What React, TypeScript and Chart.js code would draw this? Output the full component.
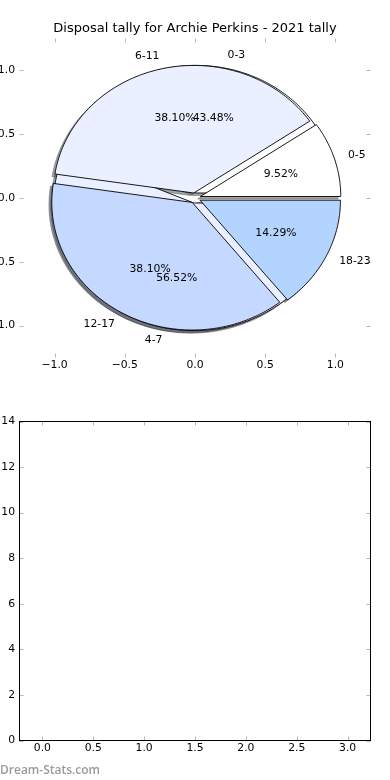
import React, { useEffect, useRef } from 'react';
import { Chart, registerables } from 'chart.js';

Chart.register(...registerables);

// ---------- data ----------
const chartTitle = 'Disposal tally for Archie Perkins - 2021 tally';
const outerLabels = ['0-5', '6-11', '12-17', '18-23'];
const outerValues = [2, 8, 8, 3];
const innerLabels = ['0-3', '4-7'];
const innerValues = [10, 13];
const pieTickValues = [-1, -0.5, 0, 0.5, 1];
const barTickX = [0, 0.5, 1, 1.5, 2, 2.5, 3];
const barTickY = [0, 2, 4, 6, 8, 10, 12, 14];
const barPositions = [0, 1, 2, 3];
const barValues = [0, 0, 0, 0];
const watermarkText = 'Dream-Stats.com';

// ---------- styles ----------
const sliceColors = ['#ffffff', '#eaf0ff', '#c5d8ff', '#b3d4ff'];
const FAMILY = "'DejaVu Sans', sans-serif";
const TICK_SIZE = 10.8;
const EXPLODE = 0.04;
const SHADOW_OFF = -0.02;

const fmt1 = (v: number) => (v < 0 ? '\u2212' : '') + Math.abs(v).toFixed(1);

const zeroPad = (s: any) => {
  s.paddingLeft = 0;
  s.paddingRight = 0;
  s.paddingTop = 0;
  s.paddingBottom = 0;
};

const hexToRgb = (hex: string) => {
  const h = hex.replace('#', '');
  return [0, 2, 4].map((i) => parseInt(h.slice(i, i + 2), 16));
};

const inwardTicks = {
  id: 'inwardTicks',
  afterDraw(chart: any, _args: any, opts: any) {
    const { ctx, chartArea: a, scales } = chart;
    const L = 4;
    ctx.save();
    ctx.strokeStyle = 'rgba(0,0,0,0.28)';
    ctx.lineWidth = 1;
    const seg = (x1: number, y1: number, x2: number, y2: number) => {
      ctx.beginPath();
      ctx.moveTo(x1, y1);
      ctx.lineTo(x2, y2);
      ctx.stroke();
    };
    scales.x.ticks.forEach((t: any) => {
      const p = Math.round(scales.x.getPixelForValue(t.value)) + 0.5;
      seg(p, a.top, p, a.top + L);
      seg(p, a.bottom, p, a.bottom - L);
    });
    scales.y.ticks.forEach((t: any) => {
      const p = Math.round(scales.y.getPixelForValue(t.value)) + 0.5;
      seg(a.left, p, a.left + L, p);
      seg(a.right, p, a.right - L, p);
    });
    if (opts && opts.frame) {
      ctx.strokeStyle = '#000';
      ctx.lineWidth = 1;
      ctx.strokeRect(a.left, a.top, a.right - a.left, a.bottom - a.top);
    }
    if (opts && opts.title) {
      ctx.fillStyle = '#000';
      ctx.font = `13px ${FAMILY}`;
      ctx.textAlign = 'center';
      ctx.textBaseline = 'middle';
      ctx.fillText(opts.title, (a.left + a.right) / 2, 28.8);
    }
    ctx.restore();
  },
};

type Slice = { t1: number; t2: number; mid: number; frac: number; ox: number; oy: number };

const makeSlices = (values: number[]): Slice[] => {
  const total = values.reduce((s, v) => s + v, 0);
  let t = 0;
  return values.map((v) => {
    const frac = v / total;
    const t1 = t;
    const t2 = t + 360 * frac;
    t = t2;
    const mid = ((t1 + t2) / 2) * (Math.PI / 180);
    return { t1, t2, mid, frac, ox: EXPLODE * Math.cos(mid), oy: EXPLODE * Math.sin(mid) };
  });
};

const piePlugin = {
  id: 'explodedPies',
  afterDatasetsDraw(chart: any) {
    const { ctx } = chart;
    const xs = chart.scales.x;
    const ys = chart.scales.y;
    const px = (v: number) => xs.getPixelForValue(v);
    const py = (v: number) => ys.getPixelForValue(v);
    // drawn in creation order: the 2-slice pie first, the 4-slice pie on top
    const pies = [
      { labels: innerLabels, slices: makeSlices(innerValues) },
      { labels: outerLabels, slices: makeSlices(outerValues) },
    ];
    const path = (s: Slice, dx: number, dy: number) => {
      const cx = s.ox + dx;
      const cy = s.oy + dy;
      ctx.beginPath();
      ctx.moveTo(px(cx), py(cy));
      const n = Math.max(6, Math.ceil(s.t2 - s.t1));
      for (let k = 0; k <= n; k++) {
        const a = (s.t1 + ((s.t2 - s.t1) * k) / n) * (Math.PI / 180);
        ctx.lineTo(px(cx + Math.cos(a)), py(cy + Math.sin(a)));
      }
      ctx.closePath();
    };
    ctx.save();
    // shadows (below every wedge)
    pies.forEach((p) => {
      p.slices.forEach((s, i) => {
        const [r, g, b] = hexToRgb(sliceColors[i % sliceColors.length]);
        const c = `rgba(${Math.round(r * 0.3)},${Math.round(g * 0.3)},${Math.round(b * 0.3)},0.5)`;
        path(s, SHADOW_OFF, SHADOW_OFF);
        ctx.fillStyle = c;
        ctx.fill();
        ctx.strokeStyle = c;
        ctx.lineWidth = 0.9;
        ctx.stroke();
      });
    });
    // wedges
    pies.forEach((p) => {
      p.slices.forEach((s, i) => {
        path(s, 0, 0);
        ctx.fillStyle = sliceColors[i % sliceColors.length];
        ctx.fill();
        ctx.strokeStyle = '#000';
        ctx.lineWidth = 0.9;
        ctx.lineJoin = 'miter';
        ctx.stroke();
      });
    });
    // texts
    ctx.fillStyle = '#000';
    ctx.font = `${TICK_SIZE}px ${FAMILY}`;
    ctx.textBaseline = 'middle';
    pies.forEach((p) => {
      p.slices.forEach((s, i) => {
        const lx = s.ox + 1.1 * Math.cos(s.mid);
        const ly = s.oy + 1.1 * Math.sin(s.mid);
        ctx.textAlign = lx > 0 ? 'left' : 'right';
        ctx.fillText(p.labels[i], px(lx), py(ly));
        const tx = s.ox + 0.6 * Math.cos(s.mid);
        const ty = s.oy + 0.6 * Math.sin(s.mid);
        ctx.textAlign = 'center';
        ctx.fillText((s.frac * 100).toFixed(2) + '%', px(tx), py(ty));
      });
    });
    ctx.restore();
  },
};

const tickFont = { family: FAMILY, size: TICK_SIZE };

export default function App() {
  const topRef = useRef<HTMLCanvasElement | null>(null);
  const botRef = useRef<HTMLCanvasElement | null>(null);

  useEffect(() => {
    const top = new Chart(topRef.current as HTMLCanvasElement, {
      type: 'scatter',
      data: { datasets: [{ data: [], pointRadius: 0 }] },
      options: {
        animation: false,
        responsive: false,
        maintainAspectRatio: false,
        events: [],
        layout: { padding: { left: 0, right: 19.5, top: 38.5, bottom: 0 } },
        plugins: {
          legend: { display: false },
          tooltip: { enabled: false },
          title: { display: false },
          inwardTicks: { title: chartTitle },
        },
        scales: {
          x: {
            type: 'linear',
            min: -1.25,
            max: 1.25,
            offset: false,
            afterBuildTicks: (s: any) => {
              s.ticks = pieTickValues.map((v) => ({ value: v }));
            },
            afterFit: (s: any) => {
              s.height = 32.5;
              zeroPad(s);
            },
            grid: { display: false, drawTicks: false },
            border: { display: false },
            ticks: {
              callback: (v: any) => fmt1(Number(v)),
              font: tickFont,
              color: '#000',
              padding: 1,
              maxRotation: 0,
              autoSkip: false,
            },
          },
          y: {
            type: 'linear',
            min: -1.25,
            max: 1.25,
            afterBuildTicks: (s: any) => {
              s.ticks = pieTickValues.map((v) => ({ value: v }));
            },
            afterFit: (s: any) => {
              s.width = 39.5;
              zeroPad(s);
            },
            grid: { display: false, drawTicks: false },
            border: { display: false },
            ticks: {
              callback: (v: any) => fmt1(Number(v)),
              font: tickFont,
              color: '#000',
              padding: 4.5,
              autoSkip: false,
            },
          },
        },
      },
      plugins: [piePlugin, inwardTicks],
    } as any);

    const bottom = new Chart(botRef.current as HTMLCanvasElement, {
      type: 'bar',
      data: {
        datasets: [
          {
            data: barPositions.map((x, i) => ({ x, y: barValues[i] })),
            backgroundColor: '#b3d4ff',
            borderWidth: 0,
          },
        ],
      },
      options: {
        animation: false,
        responsive: false,
        maintainAspectRatio: false,
        events: [],
        layout: { padding: { left: 0, right: 19.5, top: 31.5, bottom: 0 } },
        plugins: {
          legend: { display: false },
          tooltip: { enabled: false },
          title: { display: false },
          inwardTicks: { frame: true },
        },
        scales: {
          x: {
            type: 'linear',
            min: -0.225,
            max: 3.225,
            offset: false,
            afterBuildTicks: (s: any) => {
              s.ticks = barTickX.map((v) => ({ value: v }));
            },
            afterFit: (s: any) => {
              s.height = 39.5;
              zeroPad(s);
            },
            grid: { display: false, drawTicks: false, offset: false },
            border: { display: false },
            ticks: {
              callback: (v: any) => fmt1(Number(v)),
              font: tickFont,
              color: '#000',
              padding: 1,
              maxRotation: 0,
              autoSkip: false,
            },
          },
          y: {
            type: 'linear',
            min: 0,
            max: 14,
            afterBuildTicks: (s: any) => {
              s.ticks = barTickY.map((v) => ({ value: v }));
            },
            afterFit: (s: any) => {
              s.width = 39.5;
              zeroPad(s);
            },
            grid: { display: false, drawTicks: false },
            border: { display: false },
            ticks: {
              callback: (v: any) => String(v),
              font: tickFont,
              color: '#000',
              padding: 4.5,
              autoSkip: false,
            },
          },
        },
      },
      plugins: [inwardTicks],
    } as any);

    return () => {
      top.destroy();
      bottom.destroy();
    };
  }, []);

  return (
    <div style={{ position: 'absolute', left: -20, top: 0, width: 410, height: 780, background: '#fff' }}>
      <canvas ref={topRef} width={410} height={390} style={{ display: 'block', width: 410, height: 390 }} />
      <canvas ref={botRef} width={410} height={390} style={{ display: 'block', width: 410, height: 390 }} />
      <div
        style={{
          position: 'absolute',
          left: 20,
          top: 762,
          fontFamily: "'Open Sans', sans-serif",
          fontSize: 12,
          fontWeight: 600,
          lineHeight: '16px',
          color: '#9a9a9a',
          whiteSpace: 'nowrap',
        }}
      >
        {watermarkText}
      </div>
    </div>
  );
}
